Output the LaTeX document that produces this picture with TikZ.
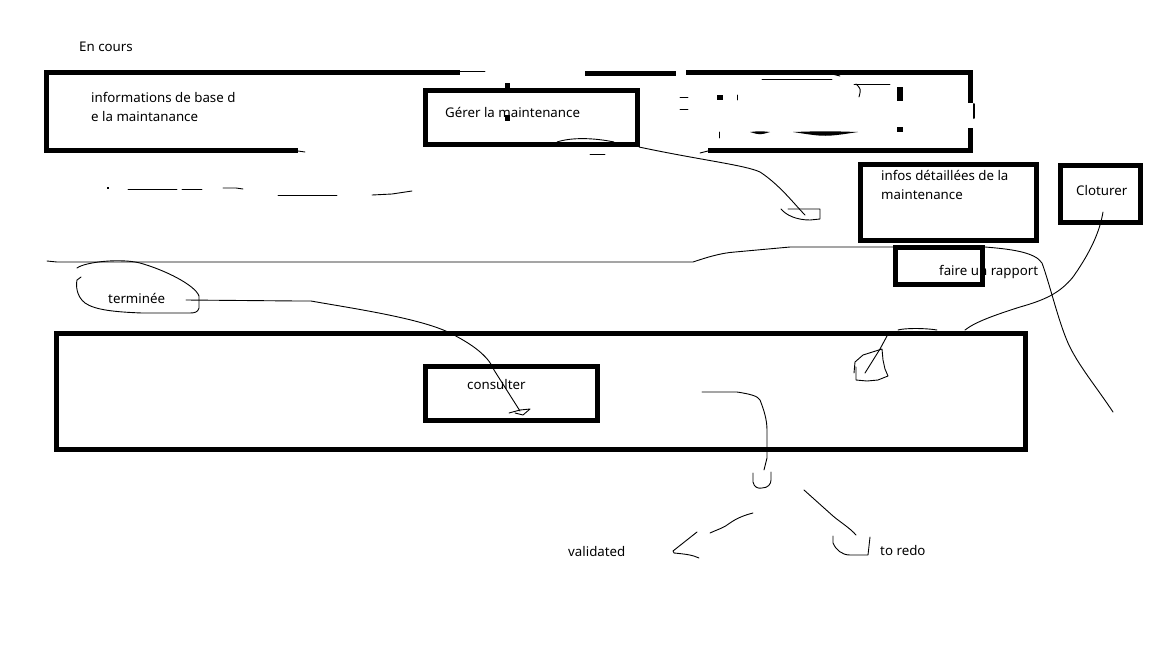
\documentclass[tikz,border=0pt]{standalone}
\usepackage{fontspec}
\setmainfont{Noto Sans}
\begin{document}
\begin{tikzpicture}[x=1pt,y=-1pt,line join=round,line cap=round,
  heavy/.style={draw,line width=5pt,line cap=rect,line join=miter},
  heavyseg/.style={line width=5pt,line cap=butt},
  thin/.style={line width=0.9pt},
  lbl/.style={anchor=base west,inner sep=0pt,text=black,font=\fontsize{13.3}{17}\selectfont}]
\useasboundingbox[fill=white] (0,0) rectangle (1152,648);

% ---------- texts ----------
\node[lbl] (encours) at (79,51) {En cours};
\node[lbl] (infoA) at (91,102) {informations de base d};
\node[lbl] (infoB) at (91,121) {e la maintanance};
\node[lbl] (gererT) at (445,117) {Gérer la maintenance};
\node[lbl] (detA) at (881,180) {infos détaillées de la};
\node[lbl] (detB) at (881,199) {maintenance};
\node[lbl] (clotT) at (1076,195) {Cloturer};
\node[lbl] (rappT) at (939,275) {faire un rapport};
\node[lbl] (termT) at (108,303) {terminée};
\node[lbl] (consT) at (467,389) {consulter};
\node[lbl] (valT) at (568,556) {validated};
\node[lbl] (redoT) at (880,555) {to redo};

% ---------- big top box (partly erased) ----------
\draw[heavyseg] (44,72) -- (460,72);
\draw[thin] (460,71) -- (485,71);
\draw[heavyseg] (585,73) -- (676,73);
\draw[heavyseg] (686,72) -- (973,72);
\draw[heavyseg] (46.5,70) -- (46.5,153);
\draw[heavyseg] (44,150.5) -- (298,150.5);
\draw[thin] (298,151) -- (305,152);
\draw[heavyseg] (708,150.5) -- (973,150.5);
\draw[thin] (700,153) -- (708,151);
\draw[heavyseg] (970.5,70) -- (970.5,103);
\draw[heavyseg] (970.5,128) -- (970.5,153);
\draw[line width=2pt] (974,104) -- (974,118);
% erased remnants inside
\draw[thin] (762,79) -- (832,79);
\draw[thin] (822,72) .. controls (832,74) .. (840,76);
\draw[thin] (854,84) -- (890,84);
\draw[thin] (856,84) .. controls (861,89) .. (859,97);
\fill (897,87) rectangle (903,101);
\fill (897,127) rectangle (903,132);
\draw[thin] (680,97) -- (688,97);
\draw[thin] (680,109) -- (688,109);
\fill (717,95) rectangle (723,100);
\draw[thin] (737,95) -- (737,100);
\draw[thin] (719,132) -- (719,138);
\fill (750,132) .. controls (760,131) .. (770,132) .. controls (760,135) .. (750,132);
\fill (793,132) .. controls (825,131) .. (858,132) .. controls (825,137) .. (793,132);
\fill (505,83) rectangle (510,90);

% ---------- Gérer box ----------
\draw[heavy] (425.5,90.5) rectangle (637.5,144.5);
\coordinate (gererSE) at (639,147);
\fill (505,115) rectangle (510,121);
\draw[thin] (557,142) .. controls (572,137) and (595,138) .. (614,142);
\draw[thin] (590,154) -- (605,154);

% dashes under the big box
\fill (107,187) rectangle (109,189);
\draw[thin] (128,189) -- (177,189);
\draw[thin] (182,189) -- (202,189);
\draw[thin] (223,188) -- (236,188) -- (243,189);
\draw[thin] (278,195) -- (337,195);
\draw[thin] (372,195) -- (392,194) -- (412,191);

% connector from Gérer to small arrow head
\coordinate (gerHead) at (805,215);
\draw[thin] (gererSE) .. controls (700,160) and (745,165) .. (760,172)
   .. controls (780,185) and (795,205) .. (gerHead);
\draw[thin] (781,209) .. controls (786,215) and (796,220) .. (810,220)
   -- (820,219) -- (820,209) -- (788,209);

% ---------- infos box, Cloturer, rapport ----------
\draw[heavy] (860.5,164.5) rectangle (1036.5,240.5);
\draw[heavy] (1060.5,165.5) rectangle (1140.5,222.5);

% long thin line
\coordinate (lineL) at (47,261);
\coordinate (lineEnd) at (1113,412);
\draw[thin] (lineL) -- (57,262) -- (693,262)
  .. controls (705,258) and (720,253) .. (735,252)
  -- (790,247) -- (985,247)
  .. controls (1010,249) and (1035,252) .. (1042,263)
  .. controls (1050,285) and (1058,320) .. (1068,343)
  .. controls (1078,365) and (1095,385) .. (lineEnd);

\draw[heavy] (895.5,247.5) rectangle (982.5,284.5);

% Cloturer connector to bottom box
\coordinate (clotStart) at (1103,212);
\draw[thin] (clotStart) .. controls (1100,230) and (1092,250) .. (1073,277)
  .. controls (1060,293) and (1045,300) .. (1020,307)
  .. controls (995,315) and (975,322) .. (965,330);
\draw[thin] (898,330) .. controls (905,328) and (925,328) .. (937,330);
\draw[thin] (887,336) -- (880,349) -- (865,373);
\draw[thin] (882,349) -- (863,355) -- (855,362) -- (854,373)
  (856,367) -- (856,380) -- (867,381) -- (878,380) -- (888,376)
  -- (885,369) -- (883,360) -- (882,349);

% ---------- terminée loop and connector ----------
\draw[thin] (77,268) .. controls (85,262) and (120,258) .. (140,263)
  .. controls (165,270) and (195,285) .. (199,296)
  -- (199,308) .. controls (198,312) and (195,313) .. (190,313)
  -- (142,313) .. controls (115,312) and (95,310) .. (85,303)
  .. controls (76,296) and (76,285) .. (77,280) -- (81,277);
\coordinate (termS) at (186,300);
\coordinate (termHead) at (520,411);
\draw[thin] (termS) -- (298,301) -- (311,301)
  .. controls (350,308) and (420,318) .. (450,333)
  .. controls (470,343) and (488,355) .. (494,370)
  -- (termHead);
\draw[thin] (509,413) -- (520,410) -- (530,409) -- (523,415) -- (515,413);

% ---------- bottom box and consulter ----------
\draw[heavy] (56.5,333.5) rectangle (1025.5,449);
\draw[heavy] (425.5,366.5) rectangle (597.5,420.5);

% decision curve
\coordinate (decS) at (702,392);
\draw[thin] (decS) -- (737,392) .. controls (750,394) and (758,396) .. (760,400)
  .. controls (764,410) and (767,420) .. (767,430) -- (767,458) -- (764,470);
\draw[thin] (753,473) -- (753,482) .. controls (754,487) and (758,489) .. (762,488)
  .. controls (768,488) and (771,484) .. (771,480) -- (771,472);

% to validated
\coordinate (valS) at (753,513);
\draw[thin] (valS) .. controls (745,515) and (737,518) .. (730,523)
  .. controls (724,528) and (716,530) .. (710,533);
\draw[thin] (697,532) -- (673,551) -- (674,553) .. controls (685,554) and (693,555) .. (699,558);

% to redo
\coordinate (redoS) at (804,490);
\draw[thin] (redoS) -- (833,516) .. controls (840,522) and (850,528) .. (856,535);
\draw[thin] (833,536) -- (833,543) .. controls (836,550) and (842,555) .. (850,555)
  -- (868,555) -- (870,537);
\end{tikzpicture}
\end{document}
